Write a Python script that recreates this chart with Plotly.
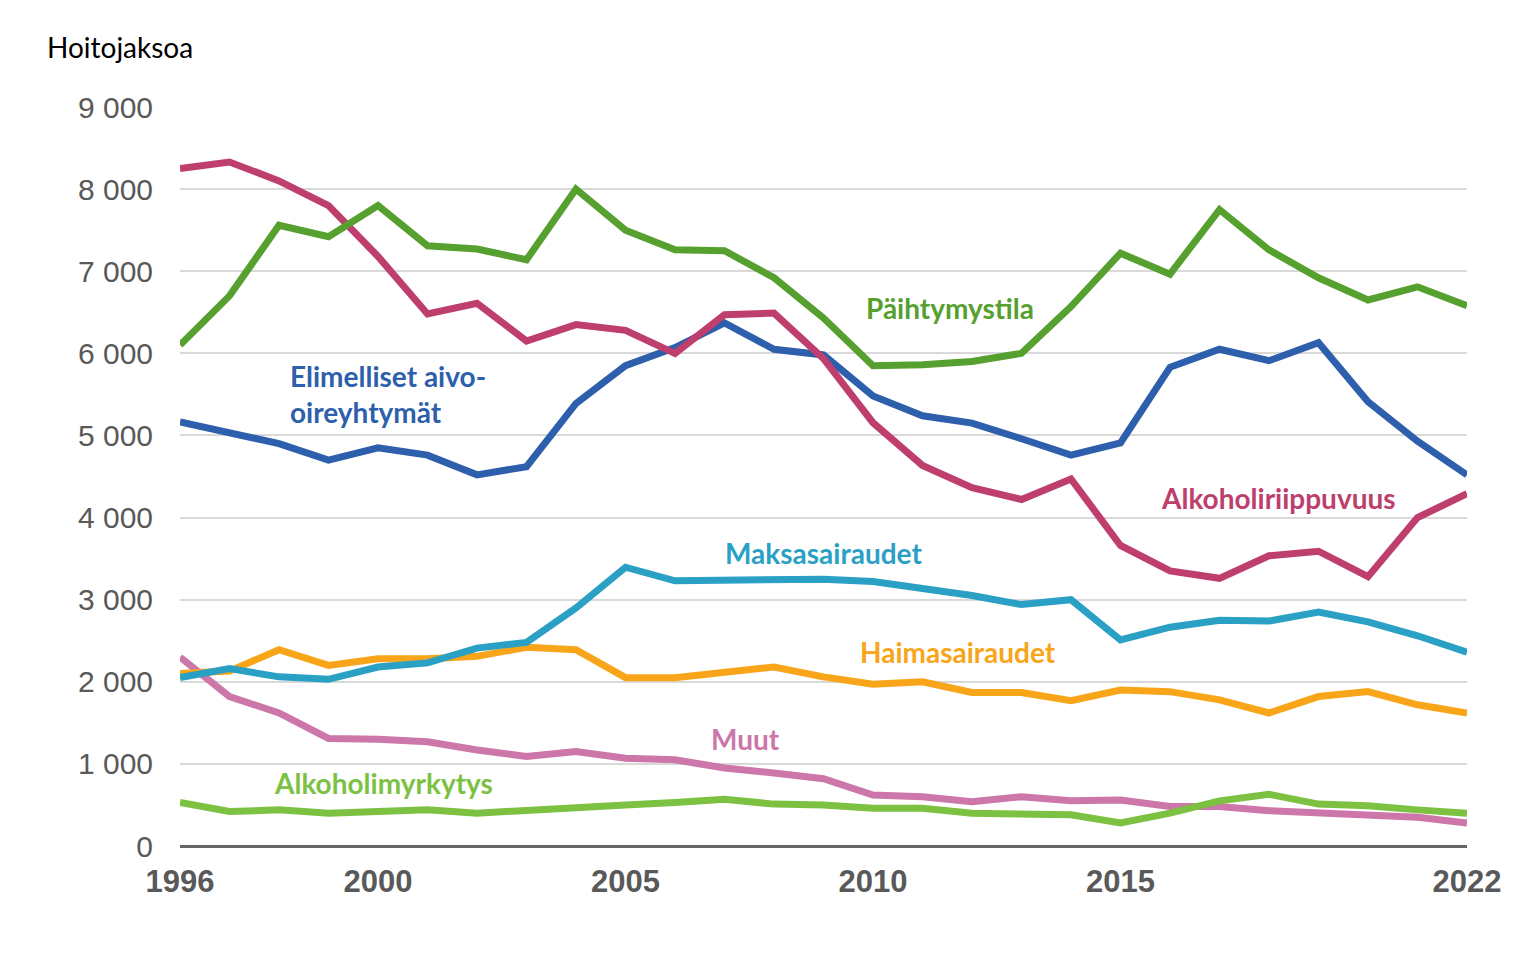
import plotly.graph_objects as go

# vuodet
years = list(range(1996, 2023))

# hoitojaksot per diagnoosiryhmä (luettu kuvasta)
paihtymystila = [6100, 6700, 7560, 7420, 7800, 7310, 7270, 7140, 8000, 7500,
                 7260, 7250, 6920, 6430, 5850, 5860, 5900, 6000, 6570, 7220,
                 6965, 7750, 7260, 6920, 6650, 6810, 6580]
elimelliset = [5165, 5030, 4900, 4700, 4850, 4760, 4520, 4620, 5390, 5850,
               6070, 6370, 6050, 5980, 5480, 5240, 5150, 4960, 4760, 4910,
               5830, 6050, 5910, 6130, 5410, 4930, 4520]
riippuvuus = [8250, 8330, 8100, 7800, 7180, 6480, 6610, 6150, 6350, 6280,
              6000, 6470, 6490, 5935, 5155, 4635, 4365, 4220, 4470, 3660,
              3350, 3260, 3535, 3590, 3280, 4000, 4290]
maksa = [2050, 2160, 2060, 2030, 2180, 2230, 2410, 2480, 2900, 3395,
         3230, 3230, 3240, 3250, 3220, 3140, 3050, 2940, 3000, 2510,
         2665, 2750, 2740, 2850, 2730, 2560, 2360]
haima = [2100, 2130, 2390, 2200, 2280, 2280, 2310, 2420, 2390, 2050,
         2050, 2120, 2180, 2060, 1970, 2000, 1870, 1870, 1770, 1900,
         1880, 1780, 1620, 1820, 1880, 1720, 1620]
muut = [2300, 1820, 1620, 1310, 1300, 1270, 1170, 1090, 1150, 1070,
        1050, 950, 890, 820, 620, 600, 540, 600, 550, 560,
        480, 480, 430, 400, 390, 350, 280]
myrkytys = [530, 420, 440, 400, 420, 440, 400, 440, 460, 500,
            530, 570, 510, 500, 460, 460, 400, 380, 380, 280,
            400, 550, 630, 510, 490, 440, 400]

series = [
    ("Muut", muut, "#CC76AA"),
    ("Alkoholimyrkytys", myrkytys, "#7DC142"),
    ("Haimasairaudet", haima, "#F9A51A"),
    ("Maksasairaudet", maksa, "#2AA0C4"),
    ("Elimelliset aivo-oireyhtymät", elimelliset, "#2E5FAC"),
    ("Alkoholiriippuvuus", riippuvuus, "#BE3E6E"),
    ("Päihtymystila", paihtymystila, "#55A02E"),
]

fig = go.Figure()
for name, vals, col in series:
    fig.add_trace(go.Scatter(x=years, y=vals, name=name, mode="lines",
                             line=dict(color=col, width=7)))

# sarjojen nimet suoraan kuvaan
labels = [
    ("Päihtymystila", 2011.56, 6550, "#55A02E", "center"),
    ("Elimelliset aivo-<br>oireyhtymät", 1998.18, 5505, "#2E5FAC", "left"),
    ("Alkoholiriippuvuus", 2018.2, 4240, "#BE3E6E", "center"),
    ("Maksasairaudet", 2009.01, 3570, "#2AA0C4", "center"),
    ("Haimasairaudet", 2011.72, 2365, "#F9A51A", "center"),
    ("Muut", 2007.43, 1305, "#CC76AA", "center"),
    ("Alkoholimyrkytys", 2000.12, 770, "#7DC142", "center"),
]
for txt, x, y, col, anc in labels:
    fig.add_annotation(x=x, y=y, text="<b>" + txt + "</b>", showarrow=False,
                       xanchor=anc, yanchor="middle", align="left",
                       font=dict(family="Lato", size=28, color=col))

# sivulla on 8 px reunus, siksi koko 1509x943
fig.update_layout(
    width=1509, height=943,
    margin=dict(l=172, r=50, t=99, b=105),
    plot_bgcolor="white", paper_bgcolor="white",
    showlegend=False,
    separators=". ",
    title=dict(text="Hoitojaksoa", x=39 / 1509, xref="container", xanchor="left",
               y=1 - 40 / 943, yref="container", yanchor="middle",
               font=dict(family="Lato", size=28, color="black")),
)
fig.update_xaxes(range=[1996, 2022], tickvals=[1996, 2000, 2005, 2010, 2015, 2022],
                 showgrid=False, zeroline=False, showline=False,
                 ticks="", ticklabelstandoff=14,
                 tickfont=dict(family="Arial", size=31, color="#595959", weight="bold"))
fig.update_yaxes(range=[0, 9000], dtick=1000, tickformat=",d",
                 showgrid=True, gridcolor="#D9D9D9", gridwidth=2,
                 zeroline=True, zerolinecolor="#666666", zerolinewidth=3,
                 ticks="", ticklabelstandoff=26,
                 tickfont=dict(family="Arial", size=30, color="#595959"))

fig.write_html("out.html")
